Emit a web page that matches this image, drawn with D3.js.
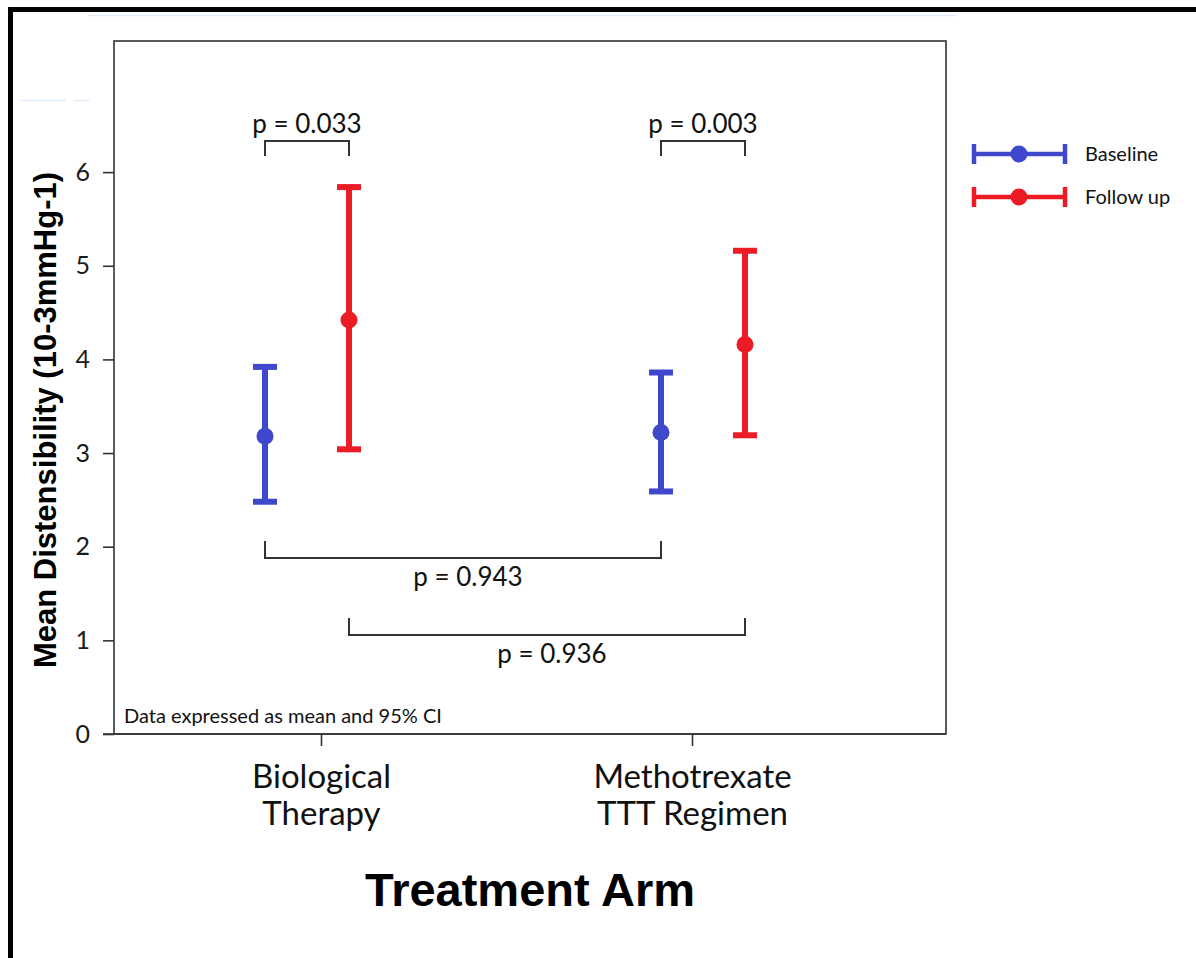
<!DOCTYPE html>
<html>
<head>
<meta charset="utf-8">
<script src="https://cdn.jsdelivr.net/npm/d3@7"></script>
<style>
  html, body { margin: 0; padding: 0; background: #fff; }
  svg { display: block; }
  .tick text { font-family: Lato, "Open Sans", sans-serif; }
</style>
</head>
<body>
<svg id="chart" width="1196" height="958"></svg>
<script>
// Treatment arms and series
const categories = ["Biological Therapy", "Methotrexate TTT Regimen"];
const categoryLines = [["Biological", "Therapy"], ["Methotrexate", "TTT Regimen"]];
const seriesNames = ["Baseline", "Follow up"];
const seriesColors = ["#3F48CC", "#ED1C24"];

// Mean distensibility with 95% CI, per arm
const baselineMean  = [3.18, 3.22];
const baselineLower = [2.48, 2.59];
const baselineUpper = [3.92, 3.86];
const followUpMean  = [4.42, 4.16];
const followUpLower = [3.04, 3.19];
const followUpUpper = [5.84, 5.16];

const yTicks = [0, 1, 2, 3, 4, 5, 6];

// Pairwise comparisons: [arm, series] vs [arm, series]
const compFrom = [[0, 0], [1, 0], [0, 0], [0, 1]];
const compTo   = [[0, 1], [1, 1], [1, 0], [1, 1]];
const compP    = ["0.033", "0.003", "0.943", "0.936"];

const series = [
  { name: seriesNames[0], color: seriesColors[0], mean: baselineMean, lo: baselineLower, hi: baselineUpper },
  { name: seriesNames[1], color: seriesColors[1], mean: followUpMean, lo: followUpLower, hi: followUpUpper }
];

const svg = d3.select("#chart");
const W = 1196, H = 958;
svg.append("rect").attr("width", W).attr("height", H).attr("fill", "#fff");

// page frame (top and left edges)
svg.append("rect").attr("x", 8).attr("y", 7).attr("width", W - 8).attr("height", 5).attr("fill", "#000");
svg.append("rect").attr("x", 8).attr("y", 7).attr("width", 5).attr("height", H - 7).attr("fill", "#000");
// faint guide strokes
svg.append("line").attr("x1", 88).attr("x2", 957).attr("y1", 15.5).attr("y2", 15.5)
  .attr("stroke", "#dfeafa").attr("stroke-width", 1.5);
svg.append("line").attr("x1", 20).attr("x2", 66).attr("y1", 100.5).attr("y2", 100.5)
  .attr("stroke", "#dfeafa").attr("stroke-width", 1.5);
svg.append("line").attr("x1", 73).attr("x2", 89).attr("y1", 100.5).attr("y2", 100.5)
  .attr("stroke", "#dfeafa").attr("stroke-width", 1.5);

const plot = { left: 114, top: 41, right: 946, bottom: 734 };

const y = d3.scaleLinear().domain([0, 7.4]).range([plot.bottom, plot.top]);
const xTick = d3.scalePoint().domain(categories).range([321, 692]);
const xArm = d3.scalePoint().domain(categories).range([307, 703]);
const xSeries = d3.scalePoint().domain(seriesNames).range([-42, 42]);
const px = (ci, si) => xArm(categories[ci]) + xSeries(seriesNames[si]);

const axisColor = "#333";

// plot frame
svg.append("rect")
  .attr("x", plot.left).attr("y", plot.top)
  .attr("width", plot.right - plot.left).attr("height", plot.bottom - plot.top)
  .attr("fill", "none").attr("stroke", axisColor).attr("stroke-width", 1.6);

// y axis
const yAxis = svg.append("g").attr("transform", `translate(${plot.left},0)`)
  .call(d3.axisLeft(y).tickValues(yTicks).tickSize(11).tickPadding(13).tickFormat(d3.format("d")));
yAxis.select(".domain").remove();
yAxis.selectAll(".tick line").attr("stroke", axisColor).attr("stroke-width", 1.6);
yAxis.selectAll(".tick text").attr("font-size", 25).attr("fill", "#1a1a1a");

// x axis
svg.append("line").attr("x1", 103).attr("x2", plot.right).attr("y1", plot.bottom).attr("y2", plot.bottom)
  .attr("stroke", axisColor).attr("stroke-width", 1.6);
const xAxis = svg.append("g").attr("transform", `translate(0,${plot.bottom})`)
  .call(d3.axisBottom(xTick).tickSize(12).tickFormat(""));
xAxis.select(".domain").remove();
xAxis.selectAll(".tick line").attr("stroke", axisColor).attr("stroke-width", 1.6);
xAxis.selectAll(".tick").each(function (d, i) {
  const g = d3.select(this);
  categoryLines[i].forEach((ln, k) => {
    g.append("text")
      .attr("text-anchor", "middle").attr("fill", "#111")
      .attr("font-family", "Lato, 'Open Sans', sans-serif").attr("font-size", 33)
      .attr("x", 0).attr("y", 54 + k * 37).text(ln);
  });
});

// axis titles
svg.append("text")
  .attr("transform", `translate(56,${(172 + 668) / 2}) rotate(-90)`)
  .attr("text-anchor", "middle")
  .attr("font-family", "'Liberation Sans', Arial, sans-serif").attr("font-weight", "bold")
  .attr("font-size", 31).attr("fill", "#000")
  .text("Mean Distensibility (10-3mmHg-1)");
svg.append("text")
  .attr("x", 530).attr("y", 906).attr("text-anchor", "middle")
  .attr("font-family", "'Liberation Sans', Arial, sans-serif").attr("font-weight", "bold")
  .attr("font-size", 47).attr("fill", "#000")
  .text("Treatment Arm");

// footnote
svg.append("text")
  .attr("x", 124).attr("y", 723)
  .attr("font-family", "Lato, 'Open Sans', sans-serif").attr("font-size", 20).attr("fill", "#111")
  .text("Data expressed as mean and 95% CI");

// error bars
const capHalf = 12;
series.forEach((s, si) => {
  const g = svg.append("g").attr("fill", s.color).attr("stroke", s.color);
  categories.forEach((c, ci) => {
    const cx = px(ci, si);
    g.append("line").attr("x1", cx).attr("x2", cx)
      .attr("y1", y(s.lo[ci])).attr("y2", y(s.hi[ci])).attr("stroke-width", 6);
    [s.lo[ci], s.hi[ci]].forEach(v => {
      g.append("line").attr("x1", cx - capHalf).attr("x2", cx + capHalf)
        .attr("y1", y(v)).attr("y2", y(v)).attr("stroke-width", 6);
    });
    g.append("circle").attr("cx", cx).attr("cy", y(s.mean[ci])).attr("r", 8.5).attr("stroke", "none");
  });
});

// comparison brackets
const bracketColor = "#333";
const pFont = "Lato, 'Open Sans', sans-serif";
compP.forEach((p, i) => {
  const x1 = px(compFrom[i][0], compFrom[i][1]);
  const x2 = px(compTo[i][0], compTo[i][1]);
  const within = compFrom[i][0] === compTo[i][0];
  let barY, legY, textY, textDx;
  if (within) {
    barY = 141; legY = 156; textY = 133; textDx = 0;
  } else {
    barY = compFrom[i][1] === 0 ? 558 : 635;
    legY = barY - 17; textY = barY + 28; textDx = 5;
  }
  svg.append("path")
    .attr("d", `M${x1},${legY}V${barY}H${x2}V${legY}`)
    .attr("fill", "none").attr("stroke", bracketColor).attr("stroke-width", 2);
  svg.append("text")
    .attr("x", (x1 + x2) / 2 + textDx).attr("y", textY).attr("text-anchor", "middle")
    .attr("font-family", pFont).attr("font-size", 26).attr("fill", "#111")
    .text(`p = ${p}`);
});

// legend
const legend = svg.append("g");
series.forEach((s, si) => {
  const ly = 154 + si * 43;
  const g = legend.append("g").attr("stroke", s.color).attr("fill", s.color);
  g.append("line").attr("x1", 972).attr("x2", 1067).attr("y1", ly).attr("y2", ly).attr("stroke-width", 4.5);
  g.append("line").attr("x1", 974).attr("x2", 974).attr("y1", ly - 10).attr("y2", ly + 10).attr("stroke-width", 4.5);
  g.append("line").attr("x1", 1065).attr("x2", 1065).attr("y1", ly - 10).attr("y2", ly + 10).attr("stroke-width", 4.5);
  g.append("circle").attr("cx", 1019).attr("cy", ly).attr("r", 8.5).attr("stroke", "none");
  legend.append("text").attr("x", 1085).attr("y", ly + 7)
    .attr("font-family", pFont).attr("font-size", 20).attr("fill", "#111")
    .text(s.name);
});
</script>
</body>
</html>
